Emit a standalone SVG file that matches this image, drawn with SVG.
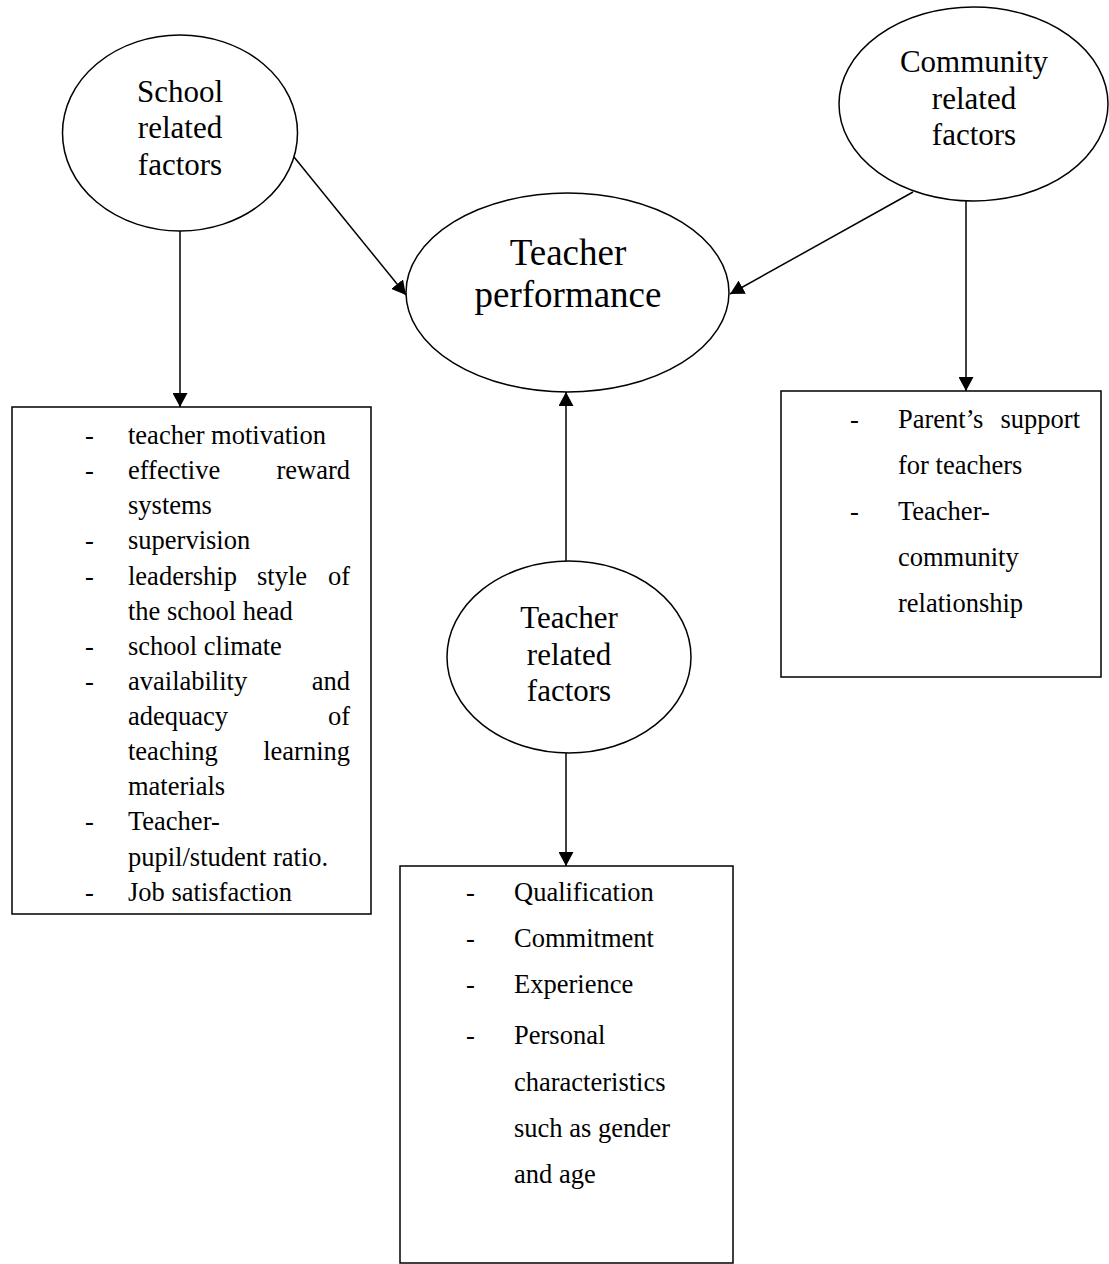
<svg xmlns="http://www.w3.org/2000/svg" width="1109" height="1264" viewBox="0 0 1109 1264">
<style>
.node{fill:#fff;stroke:#000;stroke-width:1.5}
.lbl{font-family:"Liberation Serif","Times New Roman",serif;font-size:31px;text-anchor:middle;fill:#000}
.big{font-size:37px}
.item{font-family:"Liberation Serif","Times New Roman",serif;font-size:26.5px;fill:#000}
.end{text-anchor:end}
.conn{stroke:#000;stroke-width:1.5;fill:none;marker-end:url(#arrow)}
</style>
<defs>
<marker id="arrow" viewBox="0 0 14 15" refX="14" refY="7.5" markerUnits="userSpaceOnUse" markerWidth="14" markerHeight="15" orient="auto">
<path d="M0,0 L14,7.5 L0,15 z" fill="#000"/>
</marker>
</defs>
<rect width="1109" height="1264" fill="#fff"/>

<g id="connectors">
<line class="conn" x1="180" y1="231" x2="180" y2="407"/>
<line class="conn" x1="294" y1="157" x2="406" y2="295"/>
<line class="conn" x1="913" y1="192" x2="730" y2="294"/>
<line class="conn" x1="966" y1="201" x2="966" y2="391"/>
<line class="conn" x1="566" y1="561" x2="566" y2="392"/>
<line class="conn" x1="566" y1="753" x2="566" y2="866"/>
</g>

<g id="school">
<ellipse class="node" cx="180" cy="133" rx="117.5" ry="98"/>
<text class="lbl" x="180" y="102">School</text>
<text class="lbl" x="180" y="138">related</text>
<text class="lbl" x="180" y="175">factors</text>
</g>

<g id="performance">
<ellipse class="node" cx="567.5" cy="292.5" rx="161.5" ry="99.5"/>
<text class="lbl big" x="568" y="265">Teacher</text>
<text class="lbl big" x="568" y="307">performance</text>
</g>

<g id="community">
<ellipse class="node" cx="973.5" cy="104" rx="134.5" ry="97"/>
<text class="lbl" x="974" y="72">Community</text>
<text class="lbl" x="974" y="109">related</text>
<text class="lbl" x="974" y="145">factors</text>
</g>

<g id="teacher">
<ellipse class="node" cx="569" cy="657" rx="122" ry="96"/>
<text class="lbl" x="569" y="628">Teacher</text>
<text class="lbl" x="569" y="665">related</text>
<text class="lbl" x="569" y="701">factors</text>
</g>

<g id="school-box">
<rect class="node" x="12" y="407" width="359" height="507"/>
<g class="item">
<text x="85" y="444">-</text><text x="128" y="444">teacher motivation</text>
<text x="85" y="479">-</text><text x="128" y="479">effective</text><text class="end" x="350" y="479">reward</text>
<text x="128" y="514">systems</text>
<text x="85" y="549">-</text><text x="128" y="549">supervision</text>
<text x="85" y="585">-</text><text x="128" y="585">leadership</text><text x="257" y="585">style</text><text class="end" x="350" y="585">of</text>
<text x="128" y="620">the school head</text>
<text x="85" y="655">-</text><text x="128" y="655">school climate</text>
<text x="85" y="690">-</text><text x="128" y="690">availability</text><text class="end" x="350" y="690">and</text>
<text x="128" y="725">adequacy</text><text class="end" x="350" y="725">of</text>
<text x="128" y="760">teaching</text><text class="end" x="350" y="760">learning</text>
<text x="128" y="795">materials</text>
<text x="85" y="830">-</text><text x="128" y="830">Teacher-</text>
<text x="128" y="866">pupil/student ratio.</text>
<text x="85" y="901">-</text><text x="128" y="901">Job satisfaction</text>
</g>
</g>

<g id="community-box">
<rect class="node" x="781" y="391" width="320" height="286"/>
<g class="item">
<text x="850" y="428">-</text><text x="898" y="428">Parent’s</text><text class="end" x="1080" y="428">support</text>
<text x="898" y="474">for teachers</text>
<text x="850" y="520">-</text><text x="898" y="520">Teacher-</text>
<text x="898" y="566">community</text>
<text x="898" y="612">relationship</text>
</g>
</g>

<g id="teacher-box">
<rect class="node" x="400" y="866" width="333" height="397"/>
<g class="item">
<text x="466" y="901">-</text><text x="514" y="901">Qualification</text>
<text x="466" y="947">-</text><text x="514" y="947">Commitment</text>
<text x="466" y="993">-</text><text x="514" y="993">Experience</text>
<text x="466" y="1044">-</text><text x="514" y="1044">Personal</text>
<text x="514" y="1091">characteristics</text>
<text x="514" y="1137">such as gender</text>
<text x="514" y="1183">and age</text>
</g>
</g>
</svg>
